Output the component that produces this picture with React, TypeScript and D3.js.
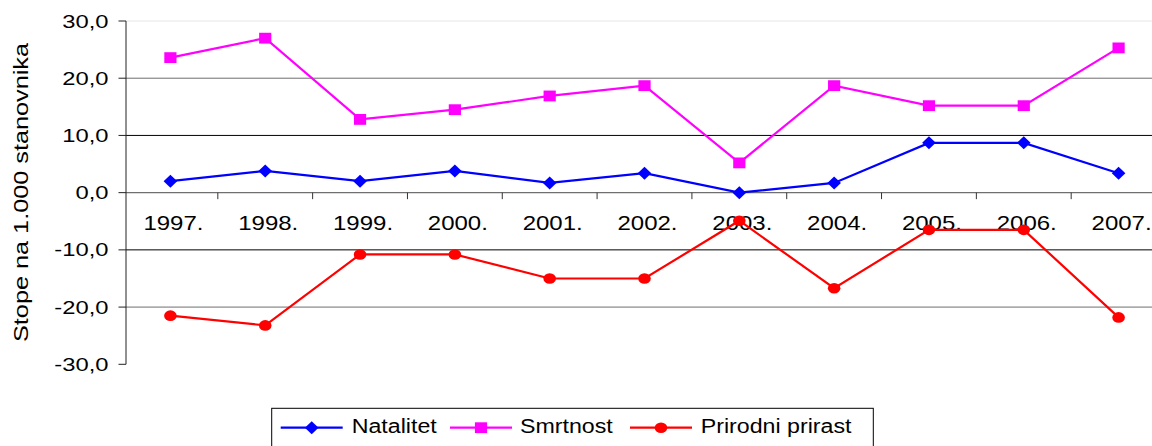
import React, { useRef, useEffect } from 'react';
import * as d3 from 'd3';

const categories = ["1997.", "1998.", "1999.", "2000.", "2001.", "2002.", "2003.", "2004.", "2005.", "2006.", "2007."];
const natalitet = [2.0, 3.8, 2.0, 3.8, 1.7, 3.4, 0.0, 1.7, 8.7, 8.7, 3.4];
const smrtnost = [23.6, 27.0, 12.8, 14.5, 16.9, 18.7, 5.2, 18.7, 15.2, 15.2, 25.3];
const prirodniPrirast = [-21.5, -23.2, -10.8, -10.8, -15.0, -15.0, -4.9, -16.7, -6.5, -6.5, -21.8];
const yTicks = [30, 20, 10, 0, -10, -20, -30];
const seriesNames = ["Natalitet", "Smrtnost", "Prirodni prirast"];
const yTitle = "Stope na 1.000 stanovnika";

export default function App() {
  const svgRef = useRef(null);

  useEffect(() => {
    d3.select(svgRef.current).selectAll("*").remove();

    const width = 1152;
    const height = 446;
    const plotLeft = 126;
    const font = "'Liberation Sans', Arial, sans-serif";
    const stretch = 1.2;

    const svg = d3.select(svgRef.current)
      .attr("width", width)
      .attr("height", height);

    svg.append("rect").attr("width", width).attr("height", height).attr("fill", "#fff");

    const x = d3.scaleBand().domain(categories).range([123, 1166]);
    const cx = d => x(d) + x.bandwidth() / 2;
    const y = d3.scaleLinear().domain([-30, 30]).range([364.3, 21]);

    // gridlines
    const gridColor = v => (v === 30 ? "#e6e6e6" : (v === 10 || v === -10) ? "#000" : "#6f6f6f");
    svg.append("g").selectAll("line")
      .data(yTicks.filter(v => v !== -30 && v !== 0))
      .enter()
      .append("line")
      .attr("x1", plotLeft)
      .attr("x2", width)
      .attr("y1", d => y(d))
      .attr("y2", d => y(d))
      .attr("stroke", d => gridColor(d))
      .attr("stroke-width", 1);

    // zero axis with ticks
    svg.append("line")
      .attr("x1", plotLeft).attr("x2", width)
      .attr("y1", y(0)).attr("y2", y(0))
      .attr("stroke", "#6f6f6f").attr("stroke-width", 1.3);
    svg.append("g").selectAll("line")
      .data(categories.slice(1))
      .enter()
      .append("line")
      .attr("x1", d => x(d)).attr("x2", d => x(d))
      .attr("y1", y(0)).attr("y2", y(0) + 6.5)
      .attr("stroke", "#333").attr("stroke-width", 1);

    // y axis
    svg.append("line")
      .attr("x1", plotLeft).attr("x2", plotLeft)
      .attr("y1", y(30)).attr("y2", y(-30))
      .attr("stroke", "#222").attr("stroke-width", 1);
    svg.append("g").selectAll("line")
      .data(yTicks)
      .enter()
      .append("line")
      .attr("x1", plotLeft - 7.5).attr("x2", plotLeft)
      .attr("y1", d => y(d)).attr("y2", d => y(d))
      .attr("stroke", "#222").attr("stroke-width", 1);

    const fmt = d3.format(".1f");
    svg.append("g").selectAll("text")
      .data(yTicks)
      .enter()
      .append("text")
      .attr("transform", d => `translate(108.5,${y(d) + 6.6}) scale(1.25,1)`)
      .attr("text-anchor", "end")
      .attr("font-family", font)
      .attr("font-size", 19)
      .attr("fill", "#000")
      .text(d => fmt(d).replace("\u2212", "-").replace(".", ","));

    // category labels
    svg.append("g").selectAll("text")
      .data(categories)
      .enter()
      .append("text")
      .attr("transform", d => `translate(${cx(d) + 3},${y(0) + 37.3}) scale(${stretch},1)`)
      .attr("text-anchor", "middle")
      .attr("font-family", font)
      .attr("font-size", 20)
      .attr("fill", "#000")
      .text(d => d);

    // y title
    svg.append("text")
      .attr("transform", `translate(27.5,192.5) rotate(-90)`)
      .attr("text-anchor", "middle")
      .attr("font-family", font)
      .attr("font-size", 21)
      .attr("textLength", 299)
      .attr("lengthAdjust", "spacingAndGlyphs")
      .attr("fill", "#000")
      .text(yTitle);

    // series
    const series = [
      { name: seriesNames[0], values: natalitet, color: "#0000ff", shape: "diamond" },
      { name: seriesNames[1], values: smrtnost, color: "#ff00ff", shape: "square" },
      { name: seriesNames[2], values: prirodniPrirast, color: "#ff0000", shape: "circle" },
    ];

    const drawMarker = (g, shape, color, px, py) => {
      if (shape === "diamond") {
        g.append("path")
          .attr("d", `M${px},${py - 6.5}L${px + 6.8},${py}L${px},${py + 6.5}L${px - 6.8},${py}Z`)
          .attr("fill", color);
      } else if (shape === "square") {
        g.append("rect")
          .attr("x", px - 6.1).attr("y", py - 5.4)
          .attr("width", 12.2).attr("height", 10.8)
          .attr("fill", color);
      } else {
        g.append("ellipse")
          .attr("cx", px).attr("cy", py)
          .attr("rx", 6.3).attr("ry", 5.3)
          .attr("fill", color);
      }
    };

    const line = d3.line()
      .x((d, i) => cx(categories[i]))
      .y(d => y(d));

    series.forEach(s => {
      const g = svg.append("g");
      g.append("path")
        .datum(s.values)
        .attr("d", line)
        .attr("fill", "none")
        .attr("stroke", s.color)
        .attr("stroke-width", 2.2);
      s.values.forEach((v, i) => drawMarker(g, s.shape, s.color, cx(categories[i]), y(v)));
    });

    // legend
    const legend = svg.append("g");
    legend.append("rect")
      .attr("x", 271.7).attr("y", 408.3)
      .attr("width", 601.6).attr("height", 60)
      .attr("fill", "#fff")
      .attr("stroke", "#000")
      .attr("stroke-width", 1);
    const legendItems = [
      { s: series[0], x0: 280.7, tx: 351.7 },
      { s: series[1], x0: 450, tx: 520 },
      { s: series[2], x0: 630, tx: 700.7 },
    ];
    legendItems.forEach(it => {
      const ly = 427.7;
      legend.append("line")
        .attr("x1", it.x0).attr("x2", it.x0 + 62)
        .attr("y1", ly).attr("y2", ly)
        .attr("stroke", it.s.color).attr("stroke-width", 2.2);
      drawMarker(legend, it.s.shape, it.s.color, it.x0 + 31, ly);
      legend.append("text")
        .attr("transform", `translate(${it.tx},433.3) scale(1.16,1)`)
        .attr("font-family", font)
        .attr("font-size", 20)
        .attr("fill", "#000")
        .text(it.s.name);
    });
  }, []);

  return <svg ref={svgRef} style={{ position: "absolute", left: 0, top: 0, display: "block" }}></svg>;
}
